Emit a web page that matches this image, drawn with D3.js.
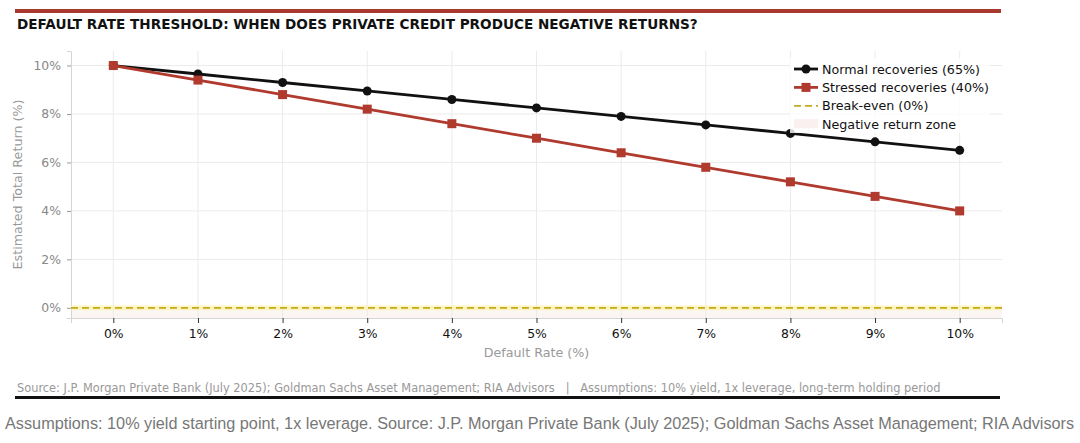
<!DOCTYPE html>
<html>
<head>
<meta charset="utf-8">
<script src="https://cdn.jsdelivr.net/npm/d3@7"></script>
<style>
  body { margin: 0; background: #fff; }
  svg { display: block; }
</style>
</head>
<body>
<svg id="chart" width="1080" height="443"></svg>
<script>
// default rate (%) on x, estimated total return (%) on y
var defaultRates = [0, 1, 2, 3, 4, 5, 6, 7, 8, 9, 10];
var normalReturns = [10, 9.65, 9.3, 8.95, 8.6, 8.25, 7.9, 7.55, 7.2, 6.85, 6.5];
var stressedReturns = [10, 9.4, 8.8, 8.2, 7.6, 7.0, 6.4, 5.8, 5.2, 4.6, 4.0];
var yTicks = [0, 2, 4, 6, 8, 10];
var breakEven = 0;
var legendLabels = ["Normal recoveries (65%)", "Stressed recoveries (40%)", "Break-even (0%)", "Negative return zone"];

var titleText = "DEFAULT RATE THRESHOLD: WHEN DOES PRIVATE CREDIT PRODUCE NEGATIVE RETURNS?";
var sourceText = "Source: J.P. Morgan Private Bank (July 2025); Goldman Sachs Asset Management; RIA Advisors   |   Assumptions: 10% yield, 1x leverage, long-term holding period";
var captionText = "Assumptions: 10% yield starting point, 1x leverage. Source: J.P. Morgan Private Bank (July 2025); Goldman Sachs Asset Management; RIA Advisors";

var svg = d3.select("#chart");
var font = "DejaVu Sans, sans-serif";
var red = "#b03a2e";

var margin = {top: 51, left: 71, right: 78, bottom: 125};
var width = 1080 - margin.left - margin.right;
var height = 443 - margin.top - margin.bottom;

// header bar + title
svg.append("rect").attr("x", 15).attr("y", 9).attr("width", 986).attr("height", 4).attr("fill", "#a8392e");
svg.append("text").attr("x", 17).attr("y", 29)
    .style("font-family", font).style("font-size", "13.6px").style("font-weight", "bold")
    .attr("fill", "#111").text(titleText);

var x = d3.scaleLinear().domain([-0.5, 10.5]).range([0, width]);
var y = d3.scaleLinear().domain([-0.42, 10.6]).range([height, 0]);

var g = svg.append("g").attr("transform", "translate(" + margin.left + "," + margin.top + ")");

// negative zone
g.append("rect")
    .attr("x", 0).attr("y", y(breakEven))
    .attr("width", width).attr("height", height - y(breakEven))
    .attr("fill", red).attr("fill-opacity", 0.05);

// grid
g.append("g").selectAll("line").data(defaultRates).enter().append("line")
    .attr("x1", function(d) { return x(d); }).attr("x2", function(d) { return x(d); })
    .attr("y1", 0).attr("y2", height)
    .attr("stroke", "#ebebeb").attr("stroke-width", 1);
g.append("g").selectAll("line").data(yTicks).enter().append("line")
    .attr("x1", 0).attr("x2", width)
    .attr("y1", function(d) { return y(d); }).attr("y2", function(d) { return y(d); })
    .attr("stroke", "#ebebeb").attr("stroke-width", 1);

// axes
var xAxis = g.append("g").attr("transform", "translate(0," + height + ")")
    .call(d3.axisBottom(x).tickValues(defaultRates).tickSize(5).tickPadding(6)
        .tickFormat(function(d) { return d + "%"; }));
xAxis.select(".domain").attr("stroke", "#d5d5d5");
xAxis.selectAll(".tick line").attr("stroke", "#333");
xAxis.selectAll("text").style("font-family", font).style("font-size", "12.4px").attr("fill", "#111");

var yAxis = g.append("g")
    .call(d3.axisLeft(y).tickValues(yTicks).tickSize(4).tickPadding(6)
        .tickFormat(function(d) { return d + "%"; }));
yAxis.select(".domain").attr("stroke", "#d5d5d5");
yAxis.selectAll(".tick line").attr("stroke", "#999");
yAxis.selectAll("text").style("font-family", font).style("font-size", "12.4px").attr("fill", "#888");

// break-even line
g.append("line")
    .attr("x1", 0).attr("x2", width)
    .attr("y1", y(breakEven)).attr("y2", y(breakEven))
    .attr("stroke", "#fff3a0").attr("stroke-width", 5).attr("stroke-opacity", 0.6);
g.append("line")
    .attr("x1", 0).attr("x2", width)
    .attr("y1", y(breakEven)).attr("y2", y(breakEven))
    .attr("stroke", "#c4aa1c").attr("stroke-width", 1.8).attr("stroke-dasharray", "7,4");

var line = d3.line().x(function(d) { return x(d[0]); }).y(function(d) { return y(d[1]); });

// normal recoveries
var normalPts = d3.zip(defaultRates, normalReturns);
g.append("path").datum(normalPts).attr("d", line)
    .attr("fill", "none").attr("stroke", "#111").attr("stroke-width", 2.8);
g.selectAll(".dot").data(normalPts).enter().append("circle")
    .attr("class", "dot")
    .attr("cx", function(d) { return x(d[0]); }).attr("cy", function(d) { return y(d[1]); })
    .attr("r", 4.5).attr("fill", "#111");

// stressed recoveries
var stressedPts = d3.zip(defaultRates, stressedReturns);
g.append("path").datum(stressedPts).attr("d", line)
    .attr("fill", "none").attr("stroke", red).attr("stroke-width", 2.8);
g.selectAll(".sq").data(stressedPts).enter().append("rect")
    .attr("class", "sq")
    .attr("x", function(d) { return x(d[0]) - 4.5; }).attr("y", function(d) { return y(d[1]) - 4.5; })
    .attr("width", 9).attr("height", 9).attr("fill", red);

// axis labels
svg.append("text")
    .attr("transform", "translate(22," + (margin.top + height / 2) + ") rotate(-90)")
    .attr("text-anchor", "middle")
    .style("font-family", font).style("font-size", "12.7px").attr("fill", "#999")
    .text("Estimated Total Return (%)");
svg.append("text")
    .attr("x", margin.left + width / 2).attr("y", 357).attr("text-anchor", "middle")
    .style("font-family", font).style("font-size", "12.7px").attr("fill", "#999")
    .text("Default Rate (%)");

// legend
var lg = svg.append("g").attr("transform", "translate(794,69)");
lg.append("rect").attr("x", -4).attr("y", -11).attr("width", 200).attr("height", 75)
    .attr("fill", "#fff").attr("fill-opacity", 0.8);
var rowH = 18.4;
legendLabels.forEach(function(label, i) {
    var ry = i * rowH;
    if (i === 0) {
        lg.append("line").attr("x1", 0).attr("x2", 24).attr("y1", ry).attr("y2", ry)
            .attr("stroke", "#111").attr("stroke-width", 2.8);
        lg.append("circle").attr("cx", 12).attr("cy", ry).attr("r", 4.5).attr("fill", "#111");
    } else if (i === 1) {
        lg.append("line").attr("x1", 0).attr("x2", 24).attr("y1", ry).attr("y2", ry)
            .attr("stroke", red).attr("stroke-width", 2.8);
        lg.append("rect").attr("x", 7.5).attr("y", ry - 4.5).attr("width", 9).attr("height", 9).attr("fill", red);
    } else if (i === 2) {
        lg.append("line").attr("x1", 0).attr("x2", 24).attr("y1", ry).attr("y2", ry)
            .attr("stroke", "#c4aa1c").attr("stroke-width", 1.8).attr("stroke-dasharray", "7,4");
    } else {
        lg.append("rect").attr("x", 0).attr("y", ry - 5).attr("width", 24).attr("height", 9)
            .attr("fill", red).attr("fill-opacity", 0.08);
    }
    lg.append("text").attr("x", 28).attr("y", ry + 4.5)
        .style("font-family", font).style("font-size", "12.7px").attr("fill", "#111")
        .text(label);
});

// source line
svg.append("text").attr("x", 17).attr("y", 392).attr("xml:space", "preserve")
    .style("font-family", font).style("font-size", "11.4px").attr("fill", "#999")
    .style("white-space", "pre")
    .text(sourceText);
svg.append("rect").attr("x", 15).attr("y", 396).attr("width", 985).attr("height", 3).attr("fill", "#111");

// bottom caption
svg.append("text").attr("x", 5).attr("y", 429)
    .style("font-family", "Liberation Sans, Arial, sans-serif").style("font-size", "16.25px").attr("fill", "#777")
    .text(captionText);
</script>
</body>
</html>
